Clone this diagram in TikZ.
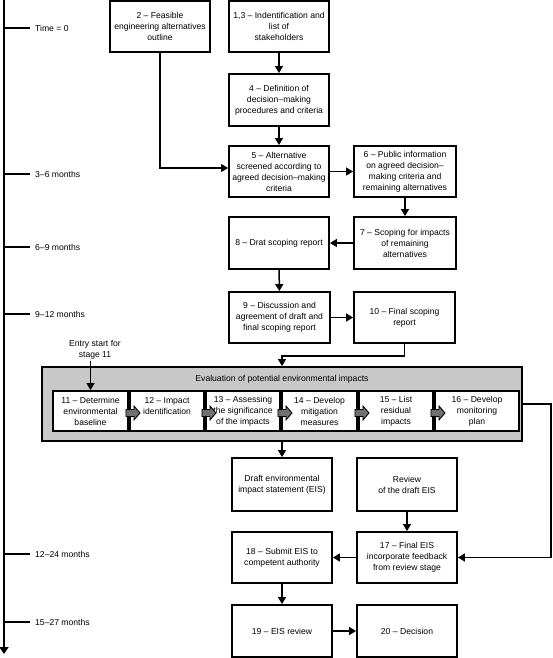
\documentclass[tikz,border=0pt]{standalone}
\usepackage{fontspec}
\setmainfont{Liberation Sans}
\usetikzlibrary{arrows.meta,calc}
\definecolor{evalgrey}{RGB}{200,200,200}
\definecolor{blkgrey}{RGB}{112,112,112}
\tikzset{
  box/.style={draw, line width=1.9pt, fill=white, align=center, inner sep=1pt,
    font=\fontsize{8.6}{11}\selectfont},
  evalbox/.style={draw, line width=1.9pt, fill=evalgrey},
  arr/.style={line width=1.5pt, -{Triangle[length=7pt,width=8pt]}},
  tick/.style={line width=1.6pt},
  tl/.style={anchor=west, inner sep=2pt, font=\fontsize{8.6}{11}\selectfont},
  lbl/.style={align=center, inner sep=1pt, font=\fontsize{8.6}{11}\selectfont},
  blk/.style={draw, line width=0.9pt, fill=blkgrey}
}
\newcommand\blkarr[2]{%
  \draw[blk] ($(#1.east)+(-3,2)$) ++(0,-3.5) -- ++(8,0) -- ++(0,-3.5) -- ++(6,7) -- ++(-6,7) -- ++(0,-3.5) -- ++(-8,0) -- cycle;}
\begin{document}
\begin{tikzpicture}[x=1pt,y=-1pt]
\useasboundingbox (0,0) rectangle (552,658);

% timeline
\coordinate (tltop) at (4,-2);
\coordinate (tlbot) at (4,654);
\draw[line width=2pt, -{Triangle[length=7pt,width=9pt]}] (tltop) -- (tlbot);
\node[tl] (t1) at (33,28) {Time = 0};
\node[tl] (t2) at (33,174) {3–6 months};
\node[tl] (t3) at (33,247) {6–9 months};
\node[tl] (t4) at (33,314) {9–12 months};
\node[tl] (t5) at (33,554) {12–24 months};
\node[tl] (t6) at (33,622) {15–27 months};
\foreach \t in {t1,t2,t3,t4,t5,t6}
  \draw[tick] (tltop |- \t.west) -- ([xshift=-3pt]\t.west);

% upper boxes
\node[box, minimum width=100pt, minimum height=51pt] (b2) at (160,26.5) {2 – Feasible\\engineering alternatives\\outline};
\node[box, minimum width=100pt, minimum height=51pt] (b13) at (279,26.5) {1,3 – Indentification and\\list of\\stakeholders};
\node[box, minimum width=100pt, minimum height=52pt] (b4) at (279,100) {4 – Definition of\\decision–making\\procedures and criteria};
\node[box, minimum width=100pt, minimum height=51pt] (b5) at (279,171.5) {5 – Alternative\\screened according to\\agreed decision–making\\criteria};
\node[box, minimum width=102pt, minimum height=51pt] (b6) at (405,171.5) {6 – Public information\\on agreed decision–\\making criteria and\\remaining alternatives};
\node[box, minimum width=102pt, minimum height=52pt] (b7) at (405,243) {7 – Scoping for impacts\\of remaining\\alternatives};
\node[box, minimum width=100pt, minimum height=52pt] (b8) at (279,243) {8 – Drat scoping report};
\node[box, minimum width=101pt, minimum height=51pt] (b9) at (279.5,317.5) {9 – Discussion and\\agreement of draft and\\final scoping report};
\node[box, minimum width=101pt, minimum height=51pt] (b10) at (404.5,317.5) {10 – Final scoping\\report};

% evaluation block
\node[evalbox, minimum width=480pt, minimum height=74pt] (eval) at (282,404) {};
\node[lbl] (evtitle) at (282,379) {Evaluation of potential environmental impacts};
\node[box, minimum width=75pt, minimum height=40pt] (e11) at (90.5,411) {11 – Determine\\environmental\\baseline};
\node[box, minimum width=74pt, minimum height=40pt] (e12) at (167,411) {12 – Impact\\identification\\\mbox{}};
\node[box, minimum width=74pt, minimum height=40pt] (e13) at (243,411) {13 – Assessing\\the significance\\of the impacts};
\node[box, minimum width=75pt, minimum height=40pt] (e14) at (319.5,411) {14 – Develop\\mitigation\\measures};
\node[box, minimum width=74pt, minimum height=40pt] (e15) at (396,411) {15 – List\\residual\\impacts};
\node[box, minimum width=84pt, minimum height=40pt] (e16) at (477,411) {16 – Develop\\monitoring\\plan};
\blkarr{e11}{e12}
\blkarr{e12}{e13}
\blkarr{e13}{e14}
\blkarr{e14}{e15}
\blkarr{e15}{e16}
\node[lbl] (entry) at (95,350) {Entry start for\\stage 11};

% lower boxes
\node[box, minimum width=100pt, minimum height=53pt] (draft) at (282,484.5) {Draft environmental\\impact statement (EIS)};
\node[box, minimum width=100pt, minimum height=53pt] (review) at (407,484.5) {Review\\of the draft EIS};
\node[box, minimum width=100pt, minimum height=51pt] (b17) at (407,557.5) {17 – Final EIS\\incorporate feedback\\from review stage};
\node[box, minimum width=100pt, minimum height=51pt] (b18) at (282,557.5) {18 – Submit EIS to\\competent authority};
\node[box, minimum width=100pt, minimum height=52pt] (b19) at (282,631) {19 – EIS review};
\node[box, minimum width=100pt, minimum height=52pt] (b20) at (407,631) {20 – Decision};

% connectors
\draw[arr] (b13) -- (b4);
\draw[arr] (b4) -- (b5);
\draw[arr] (b2.south) |- ([yshift=3.5pt]b5.west);
\draw[arr] (b5) -- (b6);
\draw[arr] (b6) -- (b7);
\draw[arr] (b7) -- (b8);
\draw[arr] (b8) -- (b9);
\draw[arr] (b9) -- (b10);
\draw[arr] (b10.south) -- ++(0,12) -| (eval.north);
\draw[arr] (e11 |- entry.south) -- (e11.north);
\draw[arr] (eval.south) -- (draft.north);
\draw[arr] (review) -- (b17);
\draw[arr] (eval.east) -- ++(28,0) |- (b17.east);
\draw[arr] (b17) -- (b18);
\draw[arr] (b18) -- (b19);
\draw[arr] (b19) -- (b20);
\end{tikzpicture}
\end{document}
